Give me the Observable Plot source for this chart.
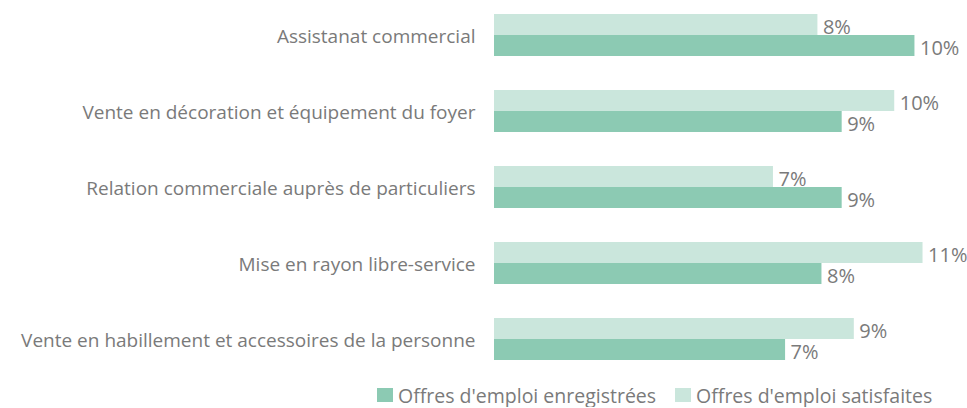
<!DOCTYPE html>
<html>
<head>
<meta charset="utf-8">
<script src="https://cdn.jsdelivr.net/npm/d3@7"></script>
<script src="https://cdn.jsdelivr.net/npm/@observablehq/plot@0.6"></script>
<style>
  html, body { margin: 0; padding: 0; background: #fff; }
  #chart svg { display: block; }
  .legend { display: flex; align-items: center; padding-left: 377px; margin-top: 7px;
    font-family: "Open Sans", sans-serif; font-size: 19.5px; color: #7a7a7a; height: 24px; }
  .legend .sw { width: 16px; height: 14px; display: inline-block; margin-right: 5px; }
  .legend .item { display: flex; align-items: center; margin-right: 19px; }
</style>
</head>
<body>
<div id="chart"></div>
<script>
const categories = [
  "Assistanat commercial",
  "Vente en décoration et équipement du foyer",
  "Relation commerciale auprès de particuliers",
  "Mise en rayon libre-service",
  "Vente en habillement et accessoires de la personne"
];
const seriesRegistered = "Offres d'emploi enregistrées";
const seriesSatisfied = "Offres d'emploi satisfaites";
const registered = [10.4, 8.6, 8.6, 8.1, 7.2];
const satisfied = [8.0, 9.9, 6.9, 10.6, 8.9];
const colors = ["#8ccab3", "#cae6dc"];

const data = categories.flatMap((c, i) => [
  {cat: c, series: seriesSatisfied, value: satisfied[i]},
  {cat: c, series: seriesRegistered, value: registered[i]}
]);

const chart = Plot.plot({
  width: 967,
  height: 376,
  marginLeft: 494,
  marginRight: 0,
  marginTop: 0,
  marginBottom: 2,
  style: {fontFamily: "'Open Sans', sans-serif", fontSize: "19px", color: "#7a7a7a", background: "#fff"},
  x: {domain: [0, 11.7], axis: null},
  y: {domain: [seriesSatisfied, seriesRegistered], padding: 0, axis: null},
  fy: {domain: categories, paddingInner: 0.428, paddingOuter: 0.171, label: null, axis: null},
  color: {domain: [seriesRegistered, seriesSatisfied], range: colors},
  marks: [
    Plot.barX(data, {fy: "cat", y: "series", x: "value", fill: "series"}),
    Plot.text(data, {fy: "cat", y: "series", x: "value", text: d => Math.round(d.value) + "%",
      textAnchor: "start", dx: 5, dy: 3, fill: "#7a7a7a", fontSize: 20}),
    Plot.axisFy({anchor: "left", tickSize: 0, tickPadding: 19, label: null, dy: 2})
  ]
});
document.getElementById("chart").appendChild(chart);

const legend = document.createElement("div");
legend.className = "legend";
[[seriesRegistered, colors[0]], [seriesSatisfied, colors[1]]].forEach(([name, col]) => {
  const item = document.createElement("span");
  item.className = "item";
  const sw = document.createElement("span");
  sw.className = "sw";
  sw.style.background = col;
  item.appendChild(sw);
  item.appendChild(document.createTextNode(name));
  legend.appendChild(item);
});
document.body.appendChild(legend);
</script>
</body>
</html>
